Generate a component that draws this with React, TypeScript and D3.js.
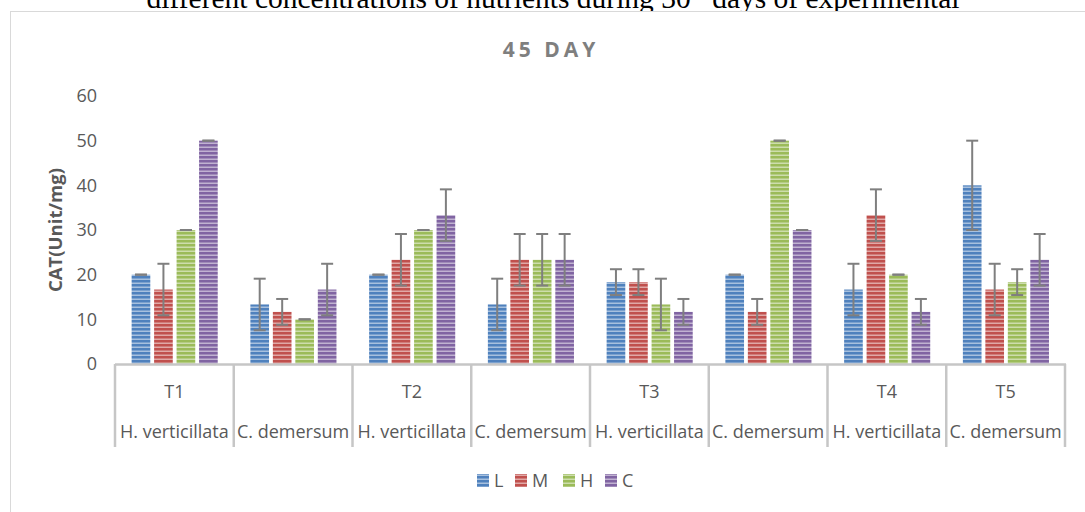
import React from "react";
import * as d3 from "d3";

const groups = ["g1", "g2", "g3", "g4", "g5", "g6", "g7", "g8"];
const treatmentLabels = ["T1", "", "T2", "", "T3", "", "T4", "T5"];
const speciesLabels = [
  "H. verticillata",
  "C. demersum",
  "H. verticillata",
  "C. demersum",
  "H. verticillata",
  "C. demersum",
  "H. verticillata",
  "C. demersum",
];
const seriesNames = ["L", "M", "H", "C"];
const seriesColors = ["#4F81BD", "#C0504D", "#9BBB59", "#8064A2"];

const valuesL = [20, 13.33, 20, 13.33, 18.33, 20, 16.67, 40];
const valuesM = [16.67, 11.67, 23.33, 23.33, 18.33, 11.67, 33.33, 16.67];
const valuesH = [30, 10, 30, 23.33, 13.33, 50, 20, 18.33];
const valuesC = [50, 16.67, 33.33, 23.33, 11.67, 30, 11.67, 23.33];

const errL = [0, 5.77, 0, 5.77, 2.89, 0, 5.77, 10];
const errM = [5.77, 2.89, 5.77, 5.77, 2.89, 2.89, 5.77, 5.77];
const errH = [0, 0, 0, 5.77, 5.77, 0, 0, 2.89];
const errC = [0, 5.77, 5.77, 5.77, 2.89, 0, 2.89, 5.77];

const yTicks = [0, 10, 20, 30, 40, 50, 60];

const seriesValues = [valuesL, valuesM, valuesH, valuesC];
const seriesErrors = [errL, errM, errH, errC];

const FONT = "'Open Sans', 'Noto Sans', sans-serif";
const TEXT = "#595959";

export default function App() {
  const width = 1085;
  const height = 512;
  const plotLeft = 115;
  const plotRight = 1065;
  const plotTop = 96;
  const plotBottom = 364;

  const x = d3.scaleBand<string>().domain(groups).range([plotLeft, plotRight]).padding(0);
  const y = d3.scaleLinear().domain([0, 60]).range([plotBottom, plotTop]);
  const gw = x.bandwidth();
  const inner = d3
    .scaleBand<string>()
    .domain(seriesNames)
    .range([gw * 0.14, gw * 0.865])
    .paddingInner(0.17);

  const legendX = [477, 515, 563, 605];

  return (
    <svg
      width={width}
      height={height}
      style={{ position: "absolute", left: 0, top: 0, background: "#fff" }}
      fontFamily={FONT}
    >
      <defs>
        {seriesColors.map((c, i) => (
          <pattern
            key={i}
            id={`stripe${i}`}
            patternUnits="userSpaceOnUse"
            width={4}
            height={4}
          >
            <rect width={4} height={4} fill={c} />
            <rect y={2.5} width={4} height={1.5} fill="#ffffff" opacity={0.5} />
          </pattern>
        ))}
      </defs>

      {/* caption text cut at the top */}
      <text
        x={553}
        y={8}
        textAnchor="middle"
        fontFamily="'Liberation Serif', 'Times New Roman', serif"
        fontSize={29.5}
        fill="#000"
      >
        different concentrations of nutrients during 30
        <tspan fontSize={18} dy={-11}>th</tspan>
        <tspan dy={11}> days of experimental</tspan>
      </text>

      {/* chart border */}
      <rect x={10.5} y={11.5} width={1200} height={600} fill="#fff" stroke="#d9d9d9" strokeWidth={1} />

      {/* title */}
      <text
        x={551}
        y={57}
        textAnchor="middle"
        fontSize={21}
        fontWeight="bold"
        letterSpacing={4}
        fill="#7f7f7f"
      >
        45 DAY
      </text>

      {/* y axis title */}
      <text
        transform={`translate(62, ${(plotTop + plotBottom) / 2}) rotate(-90)`}
        textAnchor="middle"
        fontSize={18.5}
        fontWeight="bold"
        fill={TEXT}
      >
        CAT(Unit/mg)
      </text>

      {/* y ticks */}
      {yTicks.map((t) => (
        <text
          key={t}
          x={97}
          y={y(t)}
          dy="0.35em"
          textAnchor="end"
          fontSize={18}
          fill={TEXT}
        >
          {t}
        </text>
      ))}

      {/* bars */}
      {groups.map((g, gi) =>
        seriesNames.map((s, si) => {
          const bx = (x(g) as number) + (inner(s) as number);
          const bw = inner.bandwidth();
          const v = seriesValues[si][gi];
          const e = seriesErrors[si][gi];
          const cx = bx + bw / 2;
          return (
            <g key={`${g}-${s}`}>
              <rect
                x={bx}
                y={y(v)}
                width={bw}
                height={plotBottom - y(v)}
                fill={`url(#stripe${si})`}
              />
              <g stroke="#7f7f7f" strokeWidth={2}>
                <line x1={cx} x2={cx} y1={y(v + e)} y2={y(v - e)} />
                <line x1={cx - 6} x2={cx + 6} y1={y(v + e)} y2={y(v + e)} />
                <line x1={cx - 6} x2={cx + 6} y1={y(v - e)} y2={y(v - e)} />
              </g>
            </g>
          );
        })
      )}

      {/* x axis */}
      <line x1={plotLeft} x2={plotRight + 1} y1={plotBottom + 0.5} y2={plotBottom + 0.5} stroke="#c6c6c6" strokeWidth={2.5} />
      {[...groups.map((g) => x(g) as number), plotRight].map((px, i) => (
        <line key={i} x1={px} x2={px} y1={plotBottom} y2={447} stroke="#c6c6c6" strokeWidth={2.5} />
      ))}
      {groups.map((g, gi) => (
        <g key={g}>
          <text
            x={(x(g) as number) + gw / 2}
            y={392}
            dy="0.35em"
            textAnchor="middle"
            fontSize={18}
            fill={TEXT}
          >
            {treatmentLabels[gi]}
          </text>
          <text
            x={(x(g) as number) + gw / 2}
            y={432}
            dy="0.35em"
            textAnchor="middle"
            fontSize={18}
            fill={TEXT}
          >
            {speciesLabels[gi]}
          </text>
        </g>
      ))}

      {/* legend */}
      {seriesNames.map((s, si) => (
        <g key={s}>
          <rect x={legendX[si]} y={474} width={12} height={13} fill={`url(#stripe${si})`} />
          <text x={legendX[si] + 17} y={481} dy="0.35em" fontSize={18} fill={TEXT}>
            {s}
          </text>
        </g>
      ))}
    </svg>
  );
}
